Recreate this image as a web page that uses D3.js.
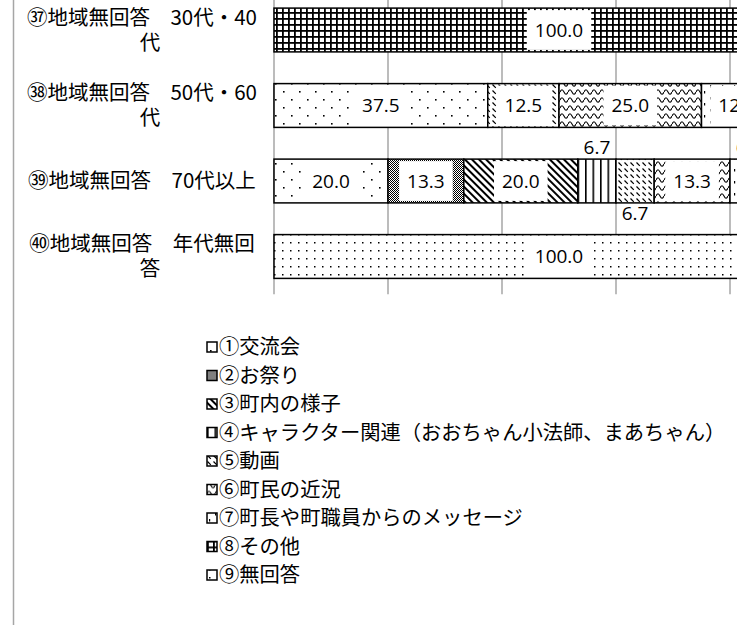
<!DOCTYPE html>
<html>
<head>
<meta charset="utf-8">
<title>地域無回答 年代別</title>
<style>
    body { margin: 0; background: #fff; }
    .cat { font-family: "Noto Sans CJK JP"; font-size: 20.5px; fill: #000; }
    .legend text { font-family: "Noto Sans CJK JP"; font-size: 20.3px; fill: #000; }
    .val { font-family: "Open Sans"; font-size: 19px; fill: #000; }
    .grid line { stroke: #a6a6a6; stroke-width: 1.5; }
</style>
</head>
<body>
<div id="chart"></div>
<script src="https://d3js.org/d3.v7.min.js"></script>
<script>
// rows (each label split the way it wraps)
const categories = [
    ["㊲地域無回答　30代・40", "代"],
    ["㊳地域無回答　50代・60", "代"],
    ["㊴地域無回答　70代以上"],
    ["㊵地域無回答　年代無回", "答"]
];
const seriesNames = [
    "①交流会", "②お祭り", "③町内の様子",
    "④キャラクター関連（おおちゃん小法師、まあちゃん）",
    "⑤動画", "⑥町民の近況", "⑦町長や町職員からのメッセージ",
    "⑧その他", "⑨無回答"
];
// percent per row, in series order
const shares = [
    [0, 0, 0, 0, 0, 0, 0, 100.0, 0],
    [37.5, 0, 0, 0, 12.5, 25.0, 12.5, 0, 12.5],
    [20.0, 13.3, 20.0, 6.7, 6.7, 13.3, 6.7, 0, 13.3],
    [0, 0, 0, 0, 0, 0, 0, 0, 100.0]
];
const xTicks = [0, 20, 40, 60, 80, 100];

const svg = d3.select("#chart").append("svg")
    .attr("width", 750)
    .attr("height", 630);

// fill patterns, one per series
const defs = svg.append("defs");
function pattern(id, w, h, draw, transform) {
    const p = defs.append("pattern")
        .attr("id", id)
        .attr("patternUnits", "userSpaceOnUse")
        .attr("width", w).attr("height", h);
    if (transform) p.attr("patternTransform", transform);
    p.append("rect").attr("width", w).attr("height", h).attr("fill", "#fff");
    draw(p);
}
const dot = (p, x, y, s) => p.append("rect").attr("x", x).attr("y", y).attr("width", s).attr("height", s).attr("fill", "#000");

pattern("p0", 16, 16, p => { dot(p, 3, 3, 1.6); dot(p, 11, 11, 1.6); });
pattern("p1", 2, 2, p => { dot(p, 0, 0, 1); dot(p, 1, 1, 1); });
pattern("p2", 5, 5, p => p.append("rect").attr("width", 2).attr("height", 5).attr("fill", "#000"), "rotate(-45)");
pattern("p3", 7.5, 10, p => p.append("rect").attr("width", 1.6).attr("height", 10).attr("fill", "#000"));
pattern("p4", 6, 6, p => p.append("path").attr("d", "M0.5,0.5L3.8,3.8").attr("stroke", "#000").attr("stroke-width", 1.2));
pattern("p5", 8, 8, p => p.append("path").attr("d", "M0,4C1.5,1 2.5,1 4,4S6.5,7 8,4").attr("fill", "none").attr("stroke", "#000").attr("stroke-width", 1.1));
pattern("p6", 12, 12, p => {
    p.append("rect").attr("x", 2).attr("y", 1).attr("width", 1.2).attr("height", 2.5).attr("fill", "#000");
    p.append("rect").attr("x", 8).attr("y", 7).attr("width", 1.2).attr("height", 2.5).attr("fill", "#000");
});
pattern("p7", 6, 6, p => {
    p.append("rect").attr("width", 6).attr("height", 1.8).attr("fill", "#000");
    p.append("rect").attr("width", 1.8).attr("height", 6).attr("fill", "#000");
});
pattern("p8", 8, 8, p => dot(p, 2, 2, 1.5));

defs.append("clipPath").attr("id", "plotClip")
    .append("rect").attr("x", 270).attr("y", -20).attr("width", 467).attr("height", 340);

// frame line on the left
svg.append("line")
    .attr("x1", 13.5).attr("x2", 13.5).attr("y1", 0).attr("y2", 625)
    .attr("stroke", "#a6a6a6").attr("stroke-width", 1.5);

const x = d3.scaleLinear().domain([0, 100]).range([274, 844]);
const y = d3.scaleBand()
    .domain(d3.range(categories.length))
    .range([-7.75, 294.25])
    .paddingInner(0.42)
    .paddingOuter(0.21);

const plot = svg.append("g").attr("clip-path", "url(#plotClip)");

// gridlines
plot.append("g").attr("class", "grid")
    .selectAll("line").data(xTicks).join("line")
    .attr("x1", d => x(d)).attr("x2", d => x(d))
    .attr("y1", y.range()[0]).attr("y2", y.range()[1]);

// stacked segments
const table = shares.map((row, i) => {
    const o = { row: i };
    seriesNames.forEach((s, k) => o[s] = row[k]);
    return o;
});
const stacked = d3.stack().keys(seriesNames)(table);

const segs = [];
stacked.forEach((layer, k) => layer.forEach(d => {
    if (d[1] - d[0] > 0) segs.push({ k, row: d.data.row, x0: d[0], x1: d[1], v: d.data[seriesNames[k]] });
}));

plot.append("g").selectAll("rect").data(segs).join("rect")
    .attr("x", d => x(d.x0))
    .attr("y", d => y(d.row))
    .attr("width", d => x(d.x1) - x(d.x0))
    .attr("height", y.bandwidth())
    .attr("fill", d => `url(#p${d.k})`)
    .attr("stroke", "#000")
    .attr("stroke-width", 1.5);

// data labels: boxed inside, or above / below when the segment is narrow
const labels = plot.append("g");
const flip = {};
segs.forEach(d => {
    const cx = (x(d.x0) + x(d.x1)) / 2;
    const cy = y(d.row) + y.bandwidth() / 2;
    const txt = d.v.toFixed(1);
    if (d.v >= 10) {
        const t = labels.append("text").attr("class", "val")
            .attr("x", cx).attr("y", cy).attr("dy", "0.36em")
            .attr("text-anchor", "middle").text(txt);
        const w = t.node().getComputedTextLength() + 16;
        labels.insert("rect", "text")
            .attr("x", cx - w / 2).attr("y", y(d.row) + 2)
            .attr("width", w).attr("height", y.bandwidth() - 4)
            .attr("fill", "#fff");
    } else {
        const up = !flip[d.row];
        flip[d.row] = up;
        labels.append("text").attr("class", "val")
            .attr("x", cx)
            .attr("y", up ? y(d.row) - 12 : y(d.row) + y.bandwidth() + 10)
            .attr("dy", "0.36em")
            .attr("text-anchor", "middle").text(txt);
    }
});

// category labels
svg.append("g").selectAll("g").data(categories).join("g")
    .each(function (lines, i) {
        const cy = y(i) + y.bandwidth() / 2;
        const g = d3.select(this);
        lines.forEach((ln, j) => {
            g.append("text").attr("class", "cat")
                .attr("x", j === 0 ? 142 : 150)
                .attr("y", cy + (j - (lines.length - 1) / 2) * 25)
                .attr("dy", "0.35em")
                .attr("text-anchor", "middle")
                .text(ln);
        });
    });

// legend
const legend = svg.append("g").attr("class", "legend")
    .selectAll("g").data(seriesNames).join("g")
    .attr("transform", (d, i) => `translate(207,${347 + i * 28.5})`);
legend.append("rect")
    .attr("x", 0).attr("y", -5).attr("width", 10).attr("height", 10)
    .attr("fill", (d, i) => `url(#p${i})`)
    .attr("stroke", "#000").attr("stroke-width", 1.5);
legend.append("text")
    .attr("x", 12).attr("dy", "0.35em")
    .text(d => d);
</script>
</body>
</html>
